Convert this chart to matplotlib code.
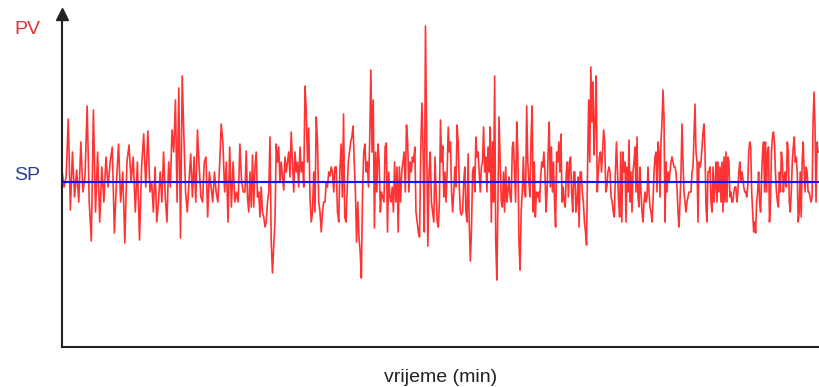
import numpy as np
import matplotlib
matplotlib.use("Agg")
import matplotlib.pyplot as plt

plt.rcParams['font.family'] = ['Liberation Sans', 'DejaVu Sans']

# set point and process value deviation (arbitrary units)
sp = 0.0
t_edges = [0, 9.26, 19.26, 29.26, 39.26, 49.26, 59.26, 69.26, 79.68]

pv_blk1 = [11, -5, 6, 63, -28, 30, -15, 12, -20, 40, -10, 6, 76, -20, -59, 72, -30, 30, -40, 15,
           -20, 25, -5, 20, 35, -51, 0, 38, -20, 10, -61, 20, 37, 0, 25, -30, 20, -58, 15, 48, -5, 51]
pv_blk2 = [-10, 0, -30, 15, -40, -20, 10, -20, 30, -15, -40, 20, -5, 52, 30, 82, -20, 94, -56, 106,
           45, -10, -30, 0, 28, -15, 25, -20, 52, 15, -15, -20, 20, 25, -35, 10, -5, -20, 10, -10,
           -20, 15, 58, 39, -10, 20, -40, 35, -25, 20, -20, -10, -20, 38, 0, -10]
pv_blk3 = [-10, 31, -15, -30, 10, -25, 27, -25, 15, 30, -15, -10, -35, -5, -30, -35, -45, -40, -20, -10,
           45, -60, -91, -64, -40, 38, 20, 35, 0, 20, 5, -8, 25, 10, 20, 30, 5, 50, 20, -10,
           30, 10, 20, -5, 35, 10, 20, -5, 96, 72, 20, 54, -15, -40, -30, 10, -30, 65, 40, -20,
           -30, -50, -30, -20, -20, 0, -5, 10, 6, 15, 10, -10, 15, 15, -30, -40]
pv_blk4 = [15, 38, -15, 68, -35, -40, -10, 20, 30, 40, 45, 56, 20, -10, -60, -20, -55, -70, -96, -10,
           30, 38, 10, 20, -5, 40, 112, 30, 82, -46, 30, -10, 38, 20, -30, -10, -15, -20, 35, 39,
           -50, 10, -15, -20, -5, -30, 20, -20, 15, -50, 15, -20, 10, 20, 30, -10, 57, 40, -10, 20,
           10, 25, 20, 35, -30, -40, -50, -55, 30, 79, 30, -50, 156, 40, -64, 10, 30, -20, -30, -40]
pv_blk5 = [25, -10, -40, -45, -20, 62, 20, 36, -15, 10, -20, 10, 55, 30, 40, -10, -30, -10, 15, -5,
           57, 40, -5, -30, -33, -30, 0, 15, -30, -40, 28, -40, -79, -50, 10, 15, -10, 45, 25, 30,
           10, -10, 15, 20, 55, 10, 25, -10, 35, 10, 55, -40, 40, -20, 106, -60, -98, -20, 65, 20,
           -20, -25, 10, -30, 15, -20, -10, 5, -15, -20, 35, 40, 10, -20, 60, 30, -60, -88, -30, -10,
           25, -10, -15, 76, 20, 0]
pv_blk6 = [-15, 45, 76, -30, 20, -35, -10, -15, -10, -20, 5, 20, 15, 30, 10, -30, -10, 30, 60, -5,
           35, -10, 20, -20, -45, 30, 20, 40, 10, 48, -20, -5, -20, -25, 10, 20, -15, 20, 25, -10,
           -30, 10, 10, -30, -20, 5, -45, 10, 10, -10, -20, -40, -50, -63, 20, 82, 20, 115, 60, 100,
           27, 60, 106, -10, 10, 25, 30, 10, 30, 52, 40, -10, -5, 10, 15, 10, -15, -20, -30, -35,
           10, 40, 10, -20, -35, 30, -40, 30, 10]
pv_blk7 = [20, -40, 15, -10, 42, -20, 10, -30, 10, 20, 35, -10, 45, -15, -25, 15, -10, -30, -40, -20,
           -10, -20, -15, 15, -10, -25, -30, -40, -20, 10, 25, 30, -10, 40, 30, -15, 40, 60, 92, 65,
           -40, 20, -10, 10, 0, 10, 20, 25, 20, 15, 15, 10, -5, -30, -45, -20, 10, 58, 20, -10,
           -20, -30, -20, -15, -10, -10, -10, 10, 15, 45, 78, 30, 20, -40, 20, 15, 20, 35, 50, 58,
           30, -25, -40, 10, 10, 15, -20, -30, 15, -20, -5, 20, -20, 20, -10]
pv_blk8 = [15, -20, 20, -30, 25, -20, 30, -20, 25, 20, -15, -10, -20, -20, -10, -5, -5, -20, -10, 10,
           20, 0, 10, 5, -5, -10, -10, -15, -5, 30, 40, 35, -10, -30, -50, -40, -51, -20, -10, 10,
           -20, -30, 5, 30, 40, -10, 40, -10, 30, 35, -40, -20, 30, 45, 50, 40, 10, -10, -20, -25,
           10, -10, 30, 20, -10, 5, 10, -5, 40, 30, -20, -30, -10, 20, 35, 45, 20, 25, 10, -40,
           -30, 10, -35, 20, 40, 10, -10, 15, 10, -10, -10, -15, -20, -15, 60, 90, 55, -20, 40, 30]

blocks = [pv_blk1, pv_blk2, pv_blk3, pv_blk4, pv_blk5, pv_blk6, pv_blk7, pv_blk8]
t = []
pv = []
for i, blk in enumerate(blocks):
    t += list(np.linspace(t_edges[i], t_edges[i + 1], len(blk), endpoint=False))
    pv += blk
t.append(t_edges[-1])
pv.append(pv_blk8[-1])

fig = plt.figure(figsize=(8.19, 3.87), dpi=100)
ax = fig.add_axes([62 / 819, 40 / 387, 757 / 819, 333 / 387])

ax.plot(t, pv, color='#ff0000', alpha=0.8, lw=1.2, zorder=2)
ax.axhline(sp, color='#1010ff', lw=1.5, zorder=3)

ax.set_xlim(0, t_edges[-1])
ax.set_ylim(-165, 168)
ax.set_xticks([])
ax.set_yticks([])
for s in ['top', 'right']:
    ax.spines[s].set_visible(False)
for s in ['left', 'bottom']:
    ax.spines[s].set_color('#222222')
    ax.spines[s].set_linewidth(1.5)

# arrow head on the y axis
ax.plot([0], [1], marker='^', ms=9, color='#222222', transform=ax.transAxes, clip_on=False)

fig.text(27 / 819, 1 - 29 / 387, 'PV', color='#e03030', fontsize=14, ha='center', va='center')
ax.text(-0.046, sp + 7, 'SP', color='#2a3f9a', fontsize=14, ha='center', va='center',
        transform=ax.get_yaxis_transform())
ax.set_xlabel('vrijeme (min)', fontsize=14, color='#222222', labelpad=16)

plt.savefig('out.png', dpi=100)
